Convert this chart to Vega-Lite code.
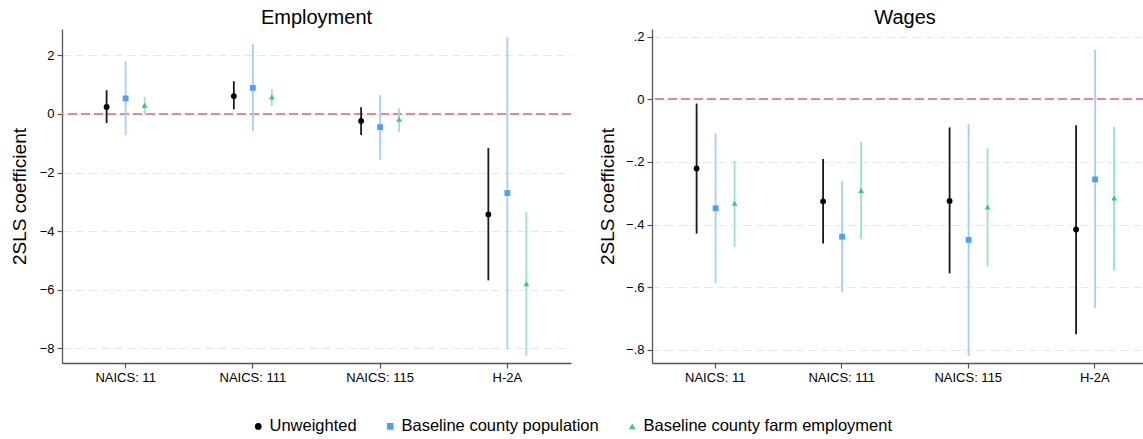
{
  "$schema": "https://vega.github.io/schema/vega-lite/v6.json",
  "background": "white",
  "padding": {"left": 10, "top": 8, "right": 0, "bottom": 5},
  "config": {
    "font": "Liberation Sans",
    "view": {"stroke": null},
    "axis": {
      "labelFont": "Liberation Sans", "labelFontSize": 13, "labelColor": "#000",
      "titleFont": "Liberation Sans", "titleFontSize": 19, "titleFontWeight": "normal", "titleColor": "#000",
      "domainColor": "#555", "domainWidth": 1.3, "tickColor": "#555", "tickSize": 5, "tickWidth": 1.2,
      "gridColor": "#e6e6e6", "gridDash": [8, 5], "gridWidth": 1
    },
    "legend": {"labelFontSize": 16.5, "labelFont": "Liberation Sans", "labelColor": "#000", "labelLimit": 400, "symbolSize": 45, "labelOffset": 3, "columnPadding": 25, "symbolStrokeWidth": 0},
    "title": {"fontSize": 20, "fontWeight": "normal", "font": "Liberation Sans", "color": "#000", "offset": 1},
    "concat": {"spacing": 26}
  },
  "data": {
    "values": [
      {"panel": "Employment", "cat": "NAICS: 11", "series": "Unweighted", "coef": 0.24, "lo": -0.31, "hi": 0.81},
      {"panel": "Employment", "cat": "NAICS: 11", "series": "Baseline county population", "coef": 0.53, "lo": -0.73, "hi": 1.80},
      {"panel": "Employment", "cat": "NAICS: 11", "series": "Baseline county farm employment", "coef": 0.30, "lo": -0.04, "hi": 0.58},
      {"panel": "Employment", "cat": "NAICS: 111", "series": "Unweighted", "coef": 0.61, "lo": 0.16, "hi": 1.12},
      {"panel": "Employment", "cat": "NAICS: 111", "series": "Baseline county population", "coef": 0.89, "lo": -0.59, "hi": 2.39},
      {"panel": "Employment", "cat": "NAICS: 111", "series": "Baseline county farm employment", "coef": 0.58, "lo": 0.27, "hi": 0.85},
      {"panel": "Employment", "cat": "NAICS: 115", "series": "Unweighted", "coef": -0.24, "lo": -0.72, "hi": 0.23},
      {"panel": "Employment", "cat": "NAICS: 115", "series": "Baseline county population", "coef": -0.45, "lo": -1.56, "hi": 0.64},
      {"panel": "Employment", "cat": "NAICS: 115", "series": "Baseline county farm employment", "coef": -0.18, "lo": -0.61, "hi": 0.19},
      {"panel": "Employment", "cat": "H-2A", "series": "Unweighted", "coef": -3.43, "lo": -5.68, "hi": -1.16},
      {"panel": "Employment", "cat": "H-2A", "series": "Baseline county population", "coef": -2.70, "lo": -8.02, "hi": 2.62},
      {"panel": "Employment", "cat": "H-2A", "series": "Baseline county farm employment", "coef": -5.79, "lo": -8.25, "hi": -3.35},
      {"panel": "Wages", "cat": "NAICS: 11", "series": "Unweighted", "coef": -0.221, "lo": -0.429, "hi": -0.014},
      {"panel": "Wages", "cat": "NAICS: 11", "series": "Baseline county population", "coef": -0.348, "lo": -0.587, "hi": -0.109},
      {"panel": "Wages", "cat": "NAICS: 11", "series": "Baseline county farm employment", "coef": -0.332, "lo": -0.472, "hi": -0.197},
      {"panel": "Wages", "cat": "NAICS: 111", "series": "Unweighted", "coef": -0.326, "lo": -0.461, "hi": -0.191},
      {"panel": "Wages", "cat": "NAICS: 111", "series": "Baseline county population", "coef": -0.439, "lo": -0.615, "hi": -0.262},
      {"panel": "Wages", "cat": "NAICS: 111", "series": "Baseline county farm employment", "coef": -0.291, "lo": -0.447, "hi": -0.137},
      {"panel": "Wages", "cat": "NAICS: 115", "series": "Unweighted", "coef": -0.325, "lo": -0.556, "hi": -0.090},
      {"panel": "Wages", "cat": "NAICS: 115", "series": "Baseline county population", "coef": -0.449, "lo": -0.819, "hi": -0.080},
      {"panel": "Wages", "cat": "NAICS: 115", "series": "Baseline county farm employment", "coef": -0.344, "lo": -0.534, "hi": -0.157},
      {"panel": "Wages", "cat": "H-2A", "series": "Unweighted", "coef": -0.416, "lo": -0.750, "hi": -0.083},
      {"panel": "Wages", "cat": "H-2A", "series": "Baseline county population", "coef": -0.256, "lo": -0.667, "hi": 0.158},
      {"panel": "Wages", "cat": "H-2A", "series": "Baseline county farm employment", "coef": -0.315, "lo": -0.547, "hi": -0.088}
    ]
  },
  "resolve": {"scale": {"color": "shared", "shape": "shared", "stroke": "shared"}},
  "hconcat": [
    {
      "title": "Employment",
      "width": 509,
      "height": 334,
      "transform": [{"filter": "datum.panel === 'Employment'"}],
      "layer": [
        {
          "mark": {"type": "rule", "strokeDash": [9, 4], "color": "#e3899b", "strokeWidth": 1.5},
          "encoding": {
            "y": {"datum": 0, "type": "quantitative",
              "scale": {"domain": [-8.5, 2.9], "nice": false, "zero": false},
              "axis": {"values": [-8, -6, -4, -2, 0, 2], "grid": true, "title": "2SLS coefficient", "titlePadding": 10, "labelPadding": 3}}
          }
        },
        {
          "mark": {"type": "rule", "strokeWidth": 1.8},
          "encoding": {
            "x": {"field": "cat", "type": "nominal", "sort": ["NAICS: 11", "NAICS: 111", "NAICS: 115", "H-2A"],
              "scale": {"paddingInner": 0, "paddingOuter": 0},
              "axis": {"title": null, "labelAngle": 0, "labelPadding": 3, "grid": false}},
            "xOffset": {"field": "series", "type": "nominal", "sort": ["Unweighted", "Baseline county population", "Baseline county farm employment"],
              "scale": {"type": "point", "range": [44.6, 82.6], "padding": 0}},
            "y": {"field": "lo", "type": "quantitative"},
            "y2": {"field": "hi"},
            "stroke": {"field": "series", "type": "nominal",
              "sort": ["Unweighted", "Baseline county population", "Baseline county farm employment"],
              "scale": {"domain": ["Unweighted", "Baseline county population", "Baseline county farm employment"], "range": ["#1a1a1a", "#a6cdfb", "#98e2c6"]},
              "legend": {"orient": "none", "legendX": 188, "legendY": 389, "direction": "horizontal", "title": null}}
          }
        },
        {
          "mark": {"type": "point", "filled": true, "size": 34, "opacity": 1},
          "encoding": {
            "x": {"field": "cat", "type": "nominal", "sort": ["NAICS: 11", "NAICS: 111", "NAICS: 115", "H-2A"]},
            "xOffset": {"field": "series", "type": "nominal", "sort": ["Unweighted", "Baseline county population", "Baseline county farm employment"]},
            "y": {"field": "coef", "type": "quantitative"},
            "color": {"field": "series", "type": "nominal",
              "sort": ["Unweighted", "Baseline county population", "Baseline county farm employment"],
              "scale": {"domain": ["Unweighted", "Baseline county population", "Baseline county farm employment"], "range": ["#000000", "#4c9ffb", "#2fc98f"]},
              "legend": {"orient": "none", "legendX": 188, "legendY": 389, "direction": "horizontal", "title": null}},
            "shape": {"field": "series", "type": "nominal",
              "sort": ["Unweighted", "Baseline county population", "Baseline county farm employment"],
              "scale": {"domain": ["Unweighted", "Baseline county population", "Baseline county farm employment"], "range": ["circle", "square", "triangle-up"]},
              "legend": {"orient": "none", "legendX": 188, "legendY": 389, "direction": "horizontal", "title": null}}
          }
        }
      ]
    },
    {
      "title": "Wages",
      "width": 506,
      "height": 334,
      "transform": [{"filter": "datum.panel === 'Wages'"}],
      "layer": [
        {
          "mark": {"type": "rule", "strokeDash": [9, 4], "color": "#e3899b", "strokeWidth": 1.5},
          "encoding": {
            "y": {"datum": 0, "type": "quantitative",
              "scale": {"domain": [-0.842, 0.224], "nice": false, "zero": false},
              "axis": {"values": [-0.8, -0.6, -0.4, -0.2, 0, 0.2], "grid": true, "title": "2SLS coefficient", "titlePadding": 8, "labelPadding": 3,
                "labelExpr": "datum.value == 0 ? '0' : replace(format(datum.value, '.1f'), '0.', '.')"}}
          }
        },
        {
          "mark": {"type": "rule", "strokeWidth": 1.8},
          "encoding": {
            "x": {"field": "cat", "type": "nominal", "sort": ["NAICS: 11", "NAICS: 111", "NAICS: 115", "H-2A"],
              "scale": {"paddingInner": 0, "paddingOuter": 0},
              "axis": {"title": null, "labelAngle": 0, "labelPadding": 3, "grid": false}},
            "xOffset": {"field": "series", "type": "nominal", "sort": ["Unweighted", "Baseline county population", "Baseline county farm employment"],
              "scale": {"type": "point", "range": [44.25, 82.25], "padding": 0}},
            "y": {"field": "lo", "type": "quantitative"},
            "y2": {"field": "hi"},
            "stroke": {"field": "series", "type": "nominal",
              "sort": ["Unweighted", "Baseline county population", "Baseline county farm employment"],
              "legend": {"orient": "none", "legendX": 188, "legendY": 389, "direction": "horizontal", "title": null}}
          }
        },
        {
          "mark": {"type": "point", "filled": true, "size": 34, "opacity": 1},
          "encoding": {
            "x": {"field": "cat", "type": "nominal", "sort": ["NAICS: 11", "NAICS: 111", "NAICS: 115", "H-2A"]},
            "xOffset": {"field": "series", "type": "nominal", "sort": ["Unweighted", "Baseline county population", "Baseline county farm employment"]},
            "y": {"field": "coef", "type": "quantitative"},
            "color": {"field": "series", "type": "nominal",
              "sort": ["Unweighted", "Baseline county population", "Baseline county farm employment"],
              "legend": {"orient": "none", "legendX": 188, "legendY": 389, "direction": "horizontal", "title": null}},
            "shape": {"field": "series", "type": "nominal",
              "sort": ["Unweighted", "Baseline county population", "Baseline county farm employment"],
              "legend": {"orient": "none", "legendX": 188, "legendY": 389, "direction": "horizontal", "title": null}}
          }
        }
      ]
    }
  ]
}
